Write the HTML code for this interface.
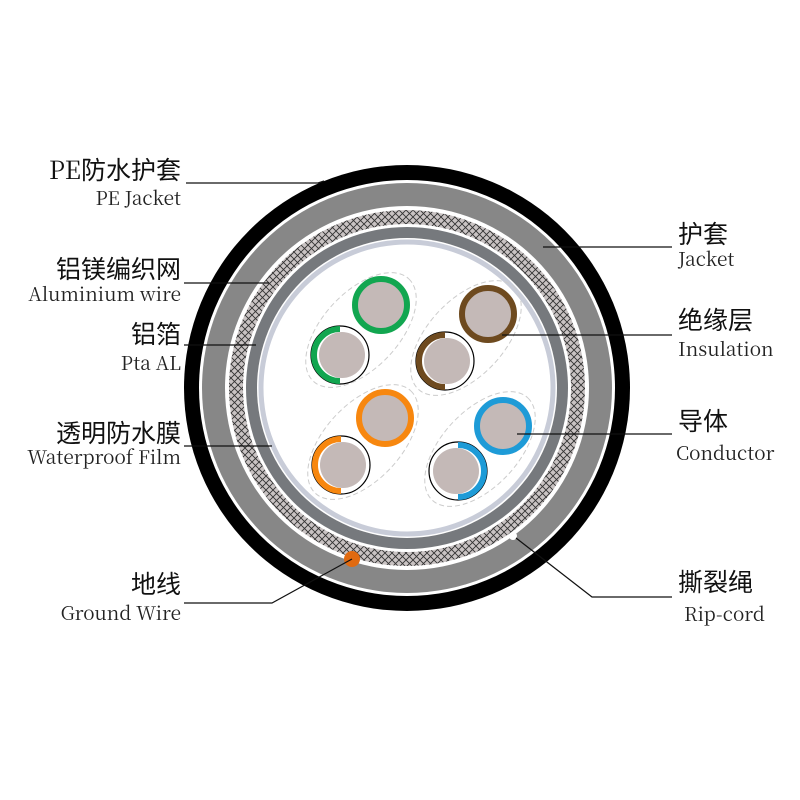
<!DOCTYPE html>
<html><head><meta charset="utf-8"><style>
html,body{margin:0;padding:0;background:#fff;}
svg{display:block}
.c{font-family:"Noto Serif CJK SC","Noto Sans CJK SC",serif;font-size:25px;fill:#111}
.c tspan.k{font-family:"Noto Sans CJK SC",sans-serif;}
.e{font-family:"Noto Serif CJK SC","Liberation Serif",serif;font-size:19px;fill:#222}
</style></head><body>
<svg width="800" height="800" viewBox="0 0 800 800" xmlns="http://www.w3.org/2000/svg">
<defs>
<pattern id="br" width="7" height="7" patternUnits="userSpaceOnUse">
<rect width="7" height="7" fill="#c9c3c3"/>
<path d="M0 0L7 7M7 0L0 7" stroke="#333" stroke-width="0.9"/>
</pattern>
</defs>
<circle cx="407" cy="388" r="223" fill="#000"/>
<circle cx="407" cy="388" r="208" fill="#fff"/>
<circle cx="407" cy="388" r="205" fill="#878787"/>
<circle cx="407" cy="388" r="182" fill="#fff"/>
<circle cx="407" cy="388" r="178" fill="url(#br)"/>
<circle cx="407" cy="388" r="164" fill="#fff"/>
<circle cx="407" cy="388" r="161" fill="#76797d"/>
<circle cx="407" cy="388" r="150" fill="#fff"/>
<circle cx="407" cy="388" r="146" fill="none" stroke="#c8ccd8" stroke-width="5"/>
<circle cx="513" cy="536" r="4" fill="#fff"/>
<g fill="none" stroke="#ccc" stroke-width="1" stroke-dasharray="5,3">
<ellipse cx="361" cy="330" rx="70" ry="38" transform="rotate(-47 361 330)"/>
<ellipse cx="466" cy="338" rx="70" ry="38" transform="rotate(-47 466 338)"/>
<ellipse cx="363" cy="442" rx="70" ry="38" transform="rotate(-47 363 442)"/>
<ellipse cx="480" cy="449" rx="70" ry="38" transform="rotate(-47 480 449)"/>
</g>
<g>
<circle cx="381" cy="305" r="26" fill="#c4b9b7" stroke="#12a650" stroke-width="6"/>
<circle cx="488" cy="314" r="26" fill="#c4b9b7" stroke="#6e4a1f" stroke-width="6"/>
<circle cx="385" cy="418" r="26" fill="#c4b9b7" stroke="#f7870f" stroke-width="6"/>
<circle cx="503" cy="426" r="26" fill="#c4b9b7" stroke="#1e9bd7" stroke-width="6"/>
</g>
<g>
<circle cx="340" cy="355" r="29" fill="#fff" stroke="#000" stroke-width="1.2"/>
<path d="M340 329 A26 26 0 0 0 340 381" fill="none" stroke="#12a650" stroke-width="6"/>
<circle cx="342" cy="355" r="23" fill="#c4b9b7"/>
<circle cx="445" cy="361" r="29" fill="#fff" stroke="#000" stroke-width="1.2"/>
<path d="M445 335 A26 26 0 0 0 445 387" fill="none" stroke="#6e4a1f" stroke-width="6"/>
<circle cx="447" cy="361" r="23" fill="#c4b9b7"/>
<circle cx="341" cy="465" r="29" fill="#fff" stroke="#000" stroke-width="1.2"/>
<path d="M341 439 A26 26 0 0 0 341 491" fill="none" stroke="#f7870f" stroke-width="6"/>
<circle cx="343" cy="465" r="23" fill="#c4b9b7"/>
<circle cx="458" cy="471" r="29" fill="#fff" stroke="#000" stroke-width="1.2"/>
<path d="M458 445 A26 26 0 0 1 458 497" fill="none" stroke="#1e9bd7" stroke-width="6"/>
<circle cx="456" cy="471" r="23" fill="#c4b9b7"/>
</g>
<circle cx="352" cy="559" r="8" fill="#e06a10"/>
<g stroke="#111" stroke-width="1.2" fill="none">
<path d="M186 183H318L324 181"/>
<path d="M184 283H269"/>
<path d="M184 345H256"/>
<path d="M184 446H272"/>
<path d="M184 603H272L352 559"/>
<path d="M543 247H672"/>
<path d="M502 335H672"/>
<path d="M517 434H672"/>
<path d="M516 538L592 597H672"/>
</g>
<g text-anchor="end">
<text class="c" x="181" y="179">PE<tspan class="k">防水护套</tspan></text>
<text class="e" x="181" y="205">PE Jacket</text>
<text class="c" x="181" y="278"><tspan class="k">铝镁编织网</tspan></text>
<text class="e" x="181" y="301">Aluminium wire</text>
<text class="c" x="181" y="343"><tspan class="k">铝箔</tspan></text>
<text class="e" x="181" y="370">Pta AL</text>
<text class="c" x="181" y="442"><tspan class="k">透明防水膜</tspan></text>
<text class="e" x="181" y="464">Waterproof Film</text>
<text class="c" x="181" y="593"><tspan class="k">地线</tspan></text>
<text class="e" x="181" y="620">Ground Wire</text>
</g>
<g>
<text class="c" x="678" y="243"><tspan class="k">护套</tspan></text>
<text class="e" x="678" y="266">Jacket</text>
<text class="c" x="678" y="329"><tspan class="k">绝缘层</tspan></text>
<text class="e" x="678" y="356">Insulation</text>
<text class="c" x="678" y="430"><tspan class="k">导体</tspan></text>
<text class="e" x="676" y="460">Conductor</text>
<text class="c" x="678" y="591"><tspan class="k">撕裂绳</tspan></text>
<text class="e" x="684" y="621">Rip-cord</text>
</g>
</svg>
</body></html>
